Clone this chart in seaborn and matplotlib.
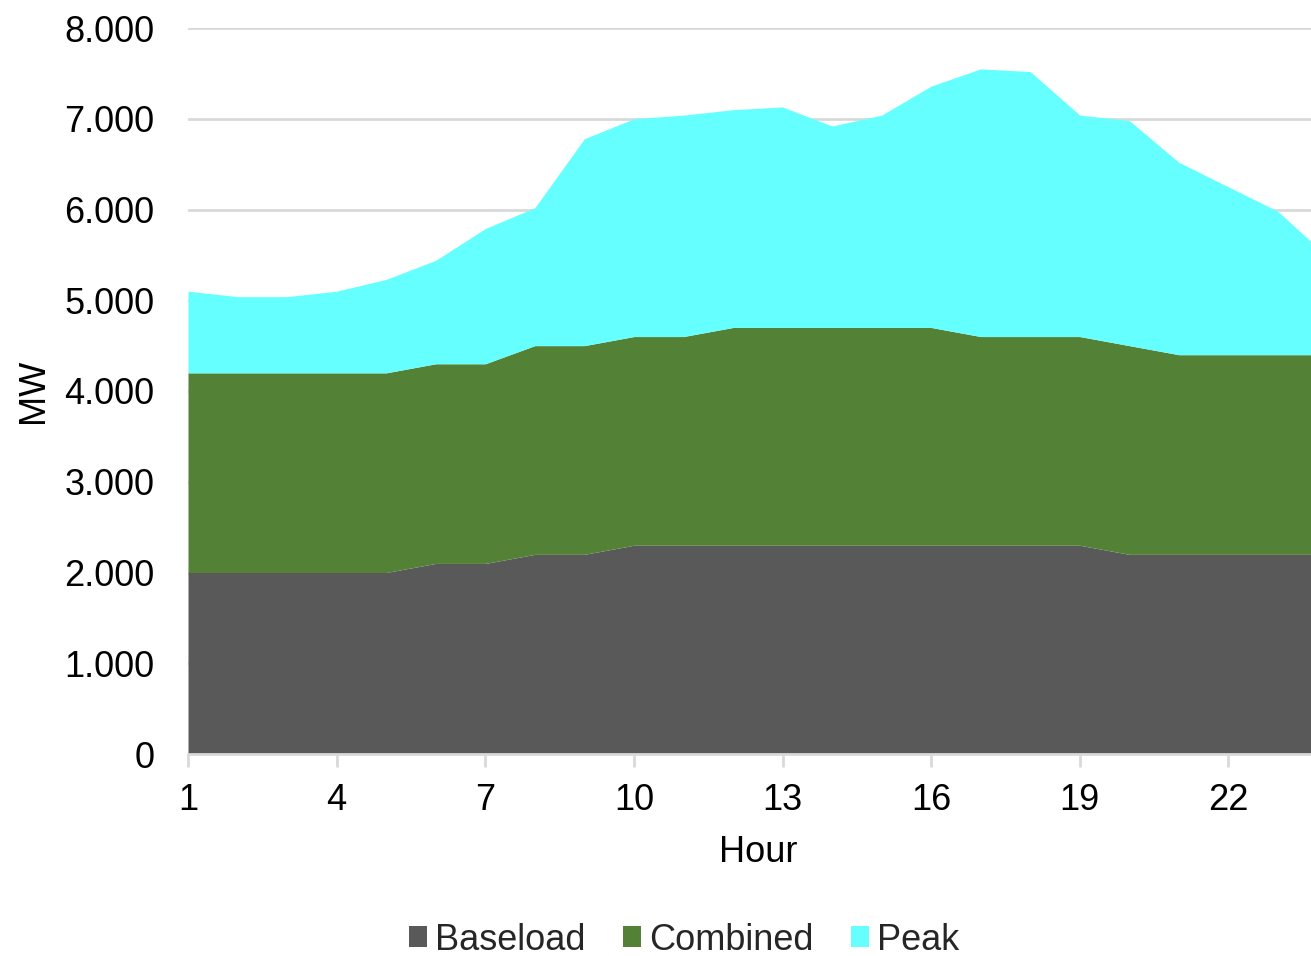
import matplotlib
matplotlib.use("Agg")
import matplotlib.pyplot as plt
from matplotlib.ticker import FuncFormatter
from matplotlib.patches import Patch
import seaborn as sns
import pandas as pd

hours = list(range(1, 25))
baseload = [2000, 2000, 2000, 2000, 2000, 2100, 2100, 2200, 2200, 2300,
            2300, 2300, 2300, 2300, 2300, 2300, 2300, 2300, 2300, 2200,
            2200, 2200, 2200, 2200]
combined = [2200, 2200, 2200, 2200, 2200, 2200, 2200, 2300, 2300, 2300,
            2300, 2400, 2400, 2400, 2400, 2400, 2300, 2300, 2300, 2300,
            2200, 2200, 2200, 2200]
peak = [900, 840, 840, 900, 1030, 1140, 1490, 1520, 2280, 2400,
        2440, 2400, 2430, 2220, 2340, 2660, 2950, 2920, 2440, 2480,
        2120, 1850, 1580, 1080]
series_names = ["Baseload", "Combined", "Peak"]
colors = ["#595959", "#538135", "#66FFFF"]
y_ticks = list(range(0, 8001, 1000))
x_ticks = list(range(1, 25, 3))

df = pd.DataFrame({"Hour": hours, "Baseload": baseload,
                   "Combined": combined, "Peak": peak})

sns.set_theme(style="white")
plt.rcParams["font.family"] = ["Liberation Sans", "DejaVu Sans"]

fig = plt.figure(figsize=(13.11, 9.56), dpi=100)
ax = fig.add_axes([188 / 1311, 1 - 754 / 956, (1327.5 - 188) / 1311, (754 - 28) / 956])

ax.stackplot(df["Hour"], [df[n] for n in series_names], colors=colors,
             labels=series_names, linewidth=0, zorder=2)

ax.set_xlim(1, 24)
ax.set_ylim(0, 8000)
ax.set_yticks(y_ticks)
ax.set_xticks(x_ticks)
ax.yaxis.set_major_formatter(FuncFormatter(lambda v, p: f"{int(v):,}".replace(",", ".")))
ax.grid(axis="y", color="#D9D9D9", linewidth=2, zorder=0)
ax.grid(axis="x", visible=False)
ax.set_axisbelow(True)

for side in ["top", "right", "left"]:
    ax.spines[side].set_visible(False)
ax.spines["bottom"].set_color("#D9D9D9")
ax.spines["bottom"].set_linewidth(2)
ax.spines["bottom"].set_zorder(3)

ax.tick_params(axis="y", length=0, pad=24, labelsize=26, labelcolor="black")
ax.tick_params(axis="x", length=9, width=2, color="#D9D9D9", direction="out",
               pad=12, labelsize=26, labelcolor="black", bottom=True)

ax.set_xlabel("Hour", fontsize=26, color="black", labelpad=12)
ax.set_ylabel("MW", fontsize=26, color="black", labelpad=10)

handles = [Patch(facecolor=c, edgecolor="none") for c in colors]
fig.legend(handles, series_names, loc="center", bbox_to_anchor=(684 / 1311, 1 - 940 / 956),
           ncol=3, frameon=False, fontsize=26, handlelength=0.5, handleheight=0.5,
           handletextpad=0.22, columnspacing=1.05)

fig.savefig("out.png", dpi=100)
